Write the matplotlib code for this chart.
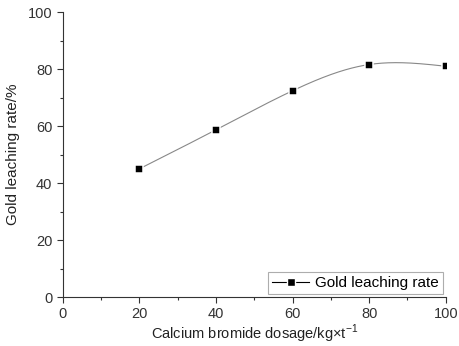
import numpy as np
import matplotlib
matplotlib.use("Agg")
import matplotlib.pyplot as plt
from matplotlib.ticker import MultipleLocator

dosage = [20, 40, 60, 80, 100]
leaching = [45.0, 58.7, 72.4, 81.6, 81.0]


def natural_spline(x, y, xs):
    x = np.asarray(x, float)
    y = np.asarray(y, float)
    n = len(x)
    h = np.diff(x)
    A = np.zeros((n, n))
    b = np.zeros(n)
    A[0, 0] = A[-1, -1] = 1
    for i in range(1, n - 1):
        A[i, i - 1] = h[i - 1]
        A[i, i] = 2 * (h[i - 1] + h[i])
        A[i, i + 1] = h[i]
        b[i] = 3 * ((y[i + 1] - y[i]) / h[i] - (y[i] - y[i - 1]) / h[i - 1])
    c = np.linalg.solve(A, b)
    out = np.empty_like(xs)
    for k, xv in enumerate(xs):
        i = min(np.searchsorted(x, xv) - 1, n - 2)
        i = max(i, 0)
        dx = xv - x[i]
        bi = (y[i + 1] - y[i]) / h[i] - h[i] * (2 * c[i] + c[i + 1]) / 3
        di = (c[i + 1] - c[i]) / (3 * h[i])
        out[k] = y[i] + bi * dx + c[i] * dx ** 2 + di * dx ** 3
    return out


plt.rcParams['font.family'] = ['Liberation Sans', 'DejaVu Sans']

fig = plt.figure(figsize=(4.59, 3.46), dpi=100)
ax = fig.add_axes([0.137, 0.1416, 0.834, 0.8234])

xs = np.linspace(dosage[0], dosage[-1], 300)
ax.plot(xs, natural_spline(dosage, leaching, xs), color='#888888', lw=0.8)
ax.plot(dosage, leaching, 's', color='black', ms=5.8, mfc='black',
        mec='white', mew=1.1, ls='none')

# legend handle: line with marker
h, = ax.plot([], [], color='black', lw=0.8, marker='s', ms=5.5, mec='white',
             mew=1.0, label='Gold leaching rate')
leg = ax.legend(handles=[h], loc='lower right', fontsize=11, frameon=True,
                fancybox=False, borderaxespad=0.2, handlelength=2.4,
                borderpad=0.25, handletextpad=0.4)
leg.get_frame().set_edgecolor('#999999')
leg.get_frame().set_linewidth(0.8)

ax.set_xlim(0, 100)
ax.set_ylim(0, 100)
ax.xaxis.set_major_locator(MultipleLocator(20))
ax.xaxis.set_minor_locator(MultipleLocator(10))
ax.yaxis.set_major_locator(MultipleLocator(20))
ax.yaxis.set_minor_locator(MultipleLocator(10))
ax.spines['top'].set_visible(False)
ax.spines['right'].set_visible(False)
for s in ('left', 'bottom'):
    ax.spines[s].set_color('#333333')
ax.tick_params(which='major', direction='out', length=4, width=0.8,
               labelsize=10.5, colors='#333333')
ax.tick_params(which='minor', direction='out', length=2.5, width=0.8,
               colors='#333333')

ax.set_xlabel(r'Calcium bromide dosage/kg×t$^{\mathregular{-1}}$',
              fontsize=10.5, color='#222222', labelpad=1)
ax.set_ylabel('Gold leaching rate/%', fontsize=11, color='#222222', labelpad=6)

fig.savefig('out.png', dpi=100)
